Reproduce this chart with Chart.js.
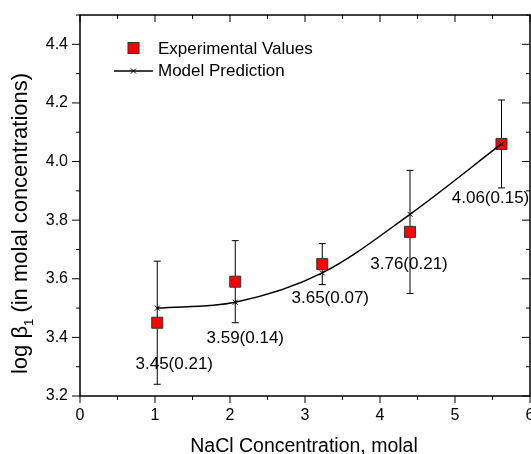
<!DOCTYPE html>
<html lang="en">
<head>
<meta charset="UTF-8">
<title>log beta1 vs NaCl concentration</title>
<script src="https://cdn.jsdelivr.net/npm/chart.js"></script>
<style>
  body { margin: 0; background: #fff; }
  #chartBox { width: 531px; height: 454px; }
</style>
</head>
<body>
<div id="chartBox"><canvas id="betaChart" width="531" height="454"></canvas></div>
<script>
// NaCl concentration (molal) of each measurement
const nacl = [1.03, 2.07, 3.23, 4.40, 5.62];
// measured log beta1 with its uncertainty
const expLogBeta = [3.45, 3.59, 3.65, 3.76, 4.06];
const expError = [0.21, 0.14, 0.07, 0.21, 0.15];
// model prediction at the same concentrations
const modelLogBeta = [3.50, 3.52, 3.62, 3.82, 4.06];

const xTicks = [0, 1, 2, 3, 4, 5, 6];
const yTicks = [3.2, 3.4, 3.6, 3.8, 4.0, 4.2, 4.4];

// offset (px) of each value label from its point
const labelShift = [[17, 42], [10, 57], [8, 34], [-1, 32], [-11, 54]];

const FONT = "'Liberation Sans', Arial, sans-serif";

function seg(ctx, x1, y1, x2, y2) {
    ctx.beginPath();
    ctx.moveTo(x1, y1);
    ctx.lineTo(x2, y2);
    ctx.stroke();
}

function midpoints(ticks, top) {
    const out = [];
    for (let i = 0; i < ticks.length - 1; i++) out.push((ticks[i] + ticks[i + 1]) / 2);
    const step = ticks[1] - ticks[0];
    const last = ticks[ticks.length - 1] + step / 2;
    if (last <= top + 1e-9) out.push(last);
    return out;
}

// box frame, outward ticks on bottom/left, inward on top/right
const frame = {
    id: 'frame',
    beforeDatasetsDraw(chart) {
        const { ctx, chartArea: a, scales: { x, y } } = chart;
        ctx.save();
        ctx.strokeStyle = '#000';
        ctx.lineWidth = 1;
        xTicks.forEach(v => {
            const px = x.getPixelForValue(v);
            seg(ctx, px, a.bottom, px, a.bottom + 7);
            seg(ctx, px, a.top, px, a.top + 7);
        });
        midpoints(xTicks, x.max).forEach(v => {
            const px = x.getPixelForValue(v);
            seg(ctx, px, a.bottom, px, a.bottom + 4);
            seg(ctx, px, a.top, px, a.top + 4);
        });
        yTicks.forEach(v => {
            const py = y.getPixelForValue(v);
            seg(ctx, a.left - 8, py, a.left, py);
            seg(ctx, a.right - 8, py, a.right, py);
        });
        midpoints(yTicks, y.max).forEach(v => {
            const py = y.getPixelForValue(v);
            seg(ctx, a.left - 4, py, a.left, py);
            seg(ctx, a.right - 4, py, a.right, py);
        });
        ctx.lineWidth = 1.5;
        ctx.strokeRect(a.left, a.top, a.right - a.left, a.bottom - a.top);
        ctx.restore();
    }
};

// vertical error bars with caps
const errorBars = {
    id: 'errorBars',
    beforeDatasetsDraw(chart) {
        const { ctx, scales: { x, y } } = chart;
        ctx.save();
        ctx.strokeStyle = '#000';
        ctx.lineWidth = 1;
        nacl.forEach((c, i) => {
            const px = x.getPixelForValue(c);
            const lo = y.getPixelForValue(expLogBeta[i] - expError[i]);
            const hi = y.getPixelForValue(expLogBeta[i] + expError[i]);
            seg(ctx, px, lo, px, hi);
            seg(ctx, px - 3.5, lo, px + 3.5, lo);
            seg(ctx, px - 3.5, hi, px + 3.5, hi);
        });
        ctx.restore();
    }
};

// "value(error)" text next to each measured point
const valueLabels = {
    id: 'valueLabels',
    afterDatasetsDraw(chart) {
        const { ctx, scales: { x, y } } = chart;
        ctx.save();
        ctx.fillStyle = '#000';
        ctx.font = `17px ${FONT}`;
        ctx.textAlign = 'center';
        ctx.textBaseline = 'middle';
        nacl.forEach((c, i) => {
            const px = x.getPixelForValue(c) + labelShift[i][0];
            const py = y.getPixelForValue(expLogBeta[i]) + labelShift[i][1];
            ctx.fillText(`${expLogBeta[i].toFixed(2)}(${expError[i].toFixed(2)})`, px, py);
        });
        ctx.restore();
    }
};

// legend box and both axis titles
const decorations = {
    id: 'decorations',
    afterDraw(chart) {
        const ctx = chart.ctx;
        ctx.save();

        // legend
        ctx.fillStyle = '#ff0000';
        ctx.strokeStyle = '#333';
        ctx.lineWidth = 1;
        ctx.fillRect(128, 42.5, 11, 11);
        ctx.strokeRect(128, 42.5, 11, 11);
        ctx.strokeStyle = '#000';
        ctx.lineWidth = 1.5;
        seg(ctx, 114, 71, 153, 71);
        ctx.lineWidth = 1;
        seg(ctx, 131, 68.5, 136, 73.5);
        seg(ctx, 131, 73.5, 136, 68.5);
        ctx.fillStyle = '#000';
        ctx.font = `17px ${FONT}`;
        ctx.textAlign = 'left';
        ctx.textBaseline = 'middle';
        ctx.fillText('Experimental Values', 158, 49);
        ctx.fillText('Model Prediction', 158, 71);

        // x title
        ctx.font = `19.5px ${FONT}`;
        ctx.textAlign = 'center';
        ctx.textBaseline = 'alphabetic';
        ctx.fillText('NaCl Concentration, molal', 304, 451.5);

        // y title with subscript
        const big = `22px ${FONT}`, small = `13px ${FONT}`;
        const parts = [['log \u03b2', big, 0], ['1', small, 6], [' (in molal concentrations)', big, 0]];
        let total = 0;
        parts.forEach(p => { ctx.font = p[1]; total += ctx.measureText(p[0]).width; });
        ctx.translate(27, 223.5);
        ctx.rotate(-Math.PI / 2);
        ctx.textAlign = 'left';
        let cx = -total / 2;
        parts.forEach(p => {
            ctx.font = p[1];
            ctx.fillText(p[0], cx, p[2]);
            cx += ctx.measureText(p[0]).width;
        });
        ctx.restore();
    }
};

new Chart(document.getElementById('betaChart'), {
    type: 'line',
    data: {
        datasets: [
            {
                label: 'Model Prediction',
                data: nacl.map((c, i) => ({ x: c, y: modelLogBeta[i] })),
                borderColor: '#000',
                borderWidth: 1.5,
                cubicInterpolationMode: 'monotone',
                pointStyle: 'crossRot',
                pointRadius: 3.5,
                pointBorderColor: '#000',
                pointBorderWidth: 1,
                order: 0
            },
            {
                label: 'Experimental Values',
                data: nacl.map((c, i) => ({ x: c, y: expLogBeta[i] })),
                showLine: false,
                pointStyle: 'rect',
                pointRadius: 7.8,
                pointBackgroundColor: '#ff0000',
                pointBorderColor: '#333',
                pointBorderWidth: 1,
                order: 1
            }
        ]
    },
    options: {
        responsive: false,
        animation: false,
        events: [],
        layout: { autoPadding: false, padding: { top: 15, right: 1, left: 0, bottom: 0 } },
        plugins: {
            legend: { display: false },
            tooltip: { enabled: false }
        },
        scales: {
            x: {
                type: 'linear',
                min: 0,
                max: 6,
                afterBuildTicks: s => { s.ticks = xTicks.map(v => ({ value: v })); },
                afterFit: s => { s.height = 58; s.paddingLeft = 0; s.paddingRight = 0; },
                grid: { display: false, drawTicks: false },
                border: { display: false },
                ticks: {
                    padding: 10,
                    color: '#000',
                    maxRotation: 0,
                    autoSkip: false,
                    font: { family: FONT, size: 16 },
                    callback: v => String(v)
                }
            },
            y: {
                type: 'linear',
                min: 3.2,
                max: 4.5,
                afterBuildTicks: s => { s.ticks = yTicks.map(v => ({ value: v })); },
                afterFit: s => { s.width = 80; s.paddingTop = 0; s.paddingBottom = 0; },
                grid: { display: false, drawTicks: false },
                border: { display: false },
                ticks: {
                    padding: 12,
                    color: '#000',
                    autoSkip: false,
                    font: { family: FONT, size: 16 },
                    callback: v => v.toFixed(1)
                }
            }
        }
    },
    plugins: [frame, errorBars, valueLabels, decorations]
});
</script>
</body>
</html>
